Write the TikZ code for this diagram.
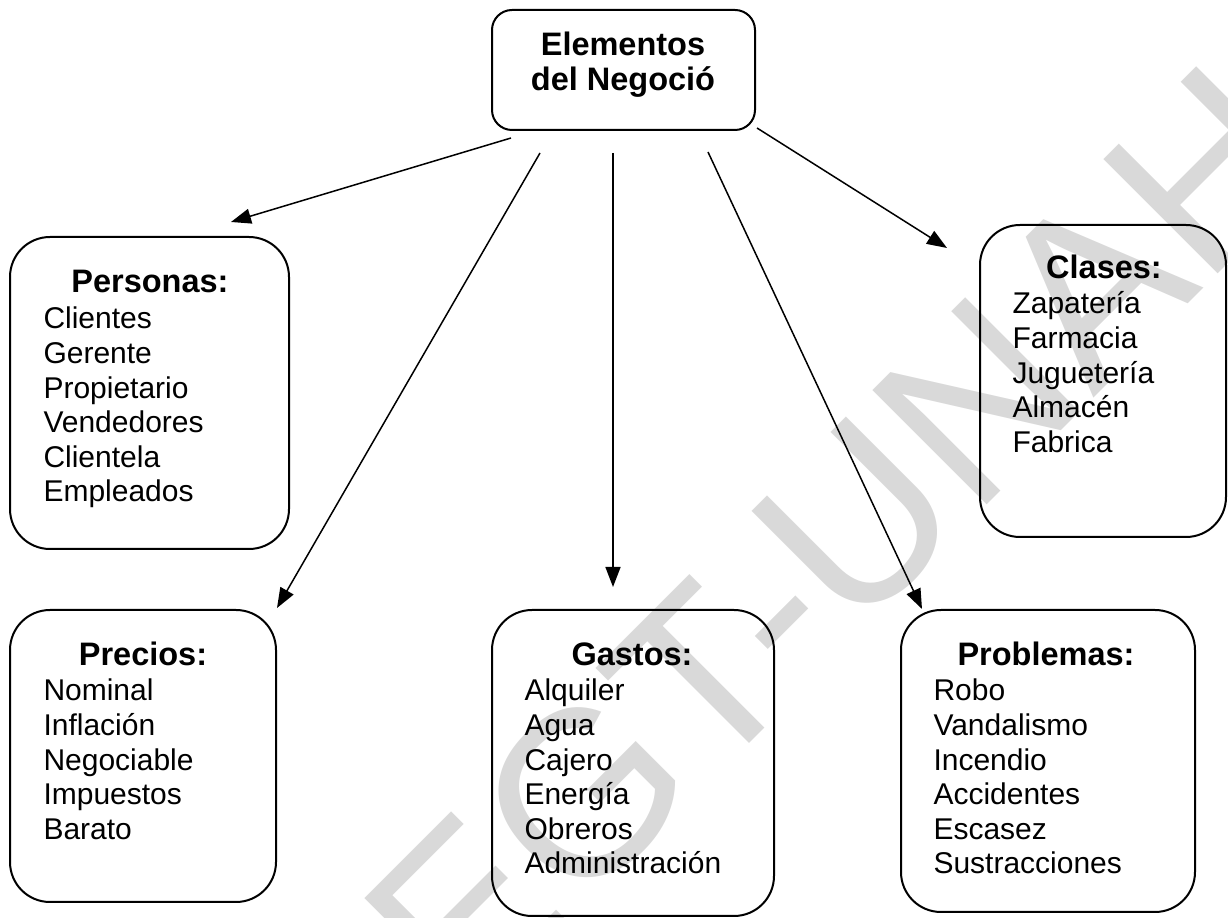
\documentclass[tikz,border=0pt]{standalone}
\usepackage{fontspec}
\setmainfont{Liberation Sans}
\usetikzlibrary{arrows.meta,fit}
\begin{document}
\begin{tikzpicture}[x=0.4pt,y=-0.4pt,
  box/.style={draw, line width=0.8pt, rounded corners=16pt, inner sep=0pt},
  topbox/.style={draw, line width=0.8pt, rounded corners=8pt, inner sep=0pt},
  title/.style={anchor=base, inner sep=0pt, font=\fontsize{13pt}{15pt}\selectfont\bfseries},
  item/.style={anchor=base west, inner sep=0pt, font=\fontsize{12pt}{13.8pt}\selectfont},
  arr/.style={-{Triangle[length=8pt,width=6pt]}, line width=0.6pt},
  wm/.style={inner sep=0pt, text=black!15, rotate=45, font=\fontsize{94pt}{100pt}\selectfont}]
\useasboundingbox (0,0) rectangle (1228,918);
% watermark
\node[wm] (wm) at (838,540) {EGT-UNAH};
% boxes
\node[topbox, fit={(492,10) (755,130)}] (top) {};
\node[box, fit={(10,237) (289,549)}] (pers) {};
\node[box, fit={(980,225) (1226,537)}] (clas) {};
\node[box, fit={(10,610) (276,902)}] (prec) {};
\node[box, fit={(492,610) (774,916)}] (gast) {};
\node[box, fit={(901,610) (1195,912)}] (prob) {};
% top text
\node[title] (top-a) at (623,56) {Elementos};
\node[title] (top-b) at (623,91) {del Negoció};
% Personas
\node[title] (pers-t) at (150,293) {Personas:};
\foreach \t [count=\i from 0] in {Clientes,Gerente,Propietario,Vendedores,Clientela,Empleados}
  \node[item] (pers-\i) at (43,329+34.6*\i) {\t};
% Clases
\node[title] (clas-t) at (1104,279) {Clases:};
\foreach \t [count=\i from 0] in {Zapatería,Farmacia,Juguetería,Almacén,Fabrica}
  \node[item] (clas-\i) at (1012,314+34.6*\i) {\t};
% Precios
\node[title] (prec-t) at (143,666) {Precios:};
\foreach \t [count=\i from 0] in {Nominal,Inflación,Negociable,Impuestos,Barato}
  \node[item] (prec-\i) at (43,701+34.6*\i) {\t};
% Gastos
\node[title] (gast-t) at (632,666) {Gastos:};
\foreach \t [count=\i from 0] in {Alquiler,Agua,Cajero,Energía,Obreros,Administración}
  \node[item] (gast-\i) at (524,701+34.6*\i) {\t};
% Problemas
\node[title] (prob-t) at (1046,666) {Problemas:};
\foreach \t [count=\i from 0] in {Robo,Vandalismo,Incendio,Accidentes,Escasez,Sustracciones}
  \node[item] (prob-\i) at (933,701+34.6*\i) {\t};
% connector ends
\coordinate (s1) at (511,138); \coordinate (e1) at (231,222);
\coordinate (s2) at (540,153); \coordinate (e2) at (277,608);
\coordinate (s3) at (613,153); \coordinate (e3) at (613,587);
\coordinate (s4) at (708,152); \coordinate (e4) at (922,609);
\coordinate (s5) at (757,128); \coordinate (e5) at (947,248);
\draw[arr] (s1) -- (e1);
\draw[arr] (s2) -- (e2);
\draw[arr] (s3) -- (e3);
\draw[arr] (s4) -- (e4);
\draw[arr] (s5) -- (e5);
\end{tikzpicture}
\end{document}
